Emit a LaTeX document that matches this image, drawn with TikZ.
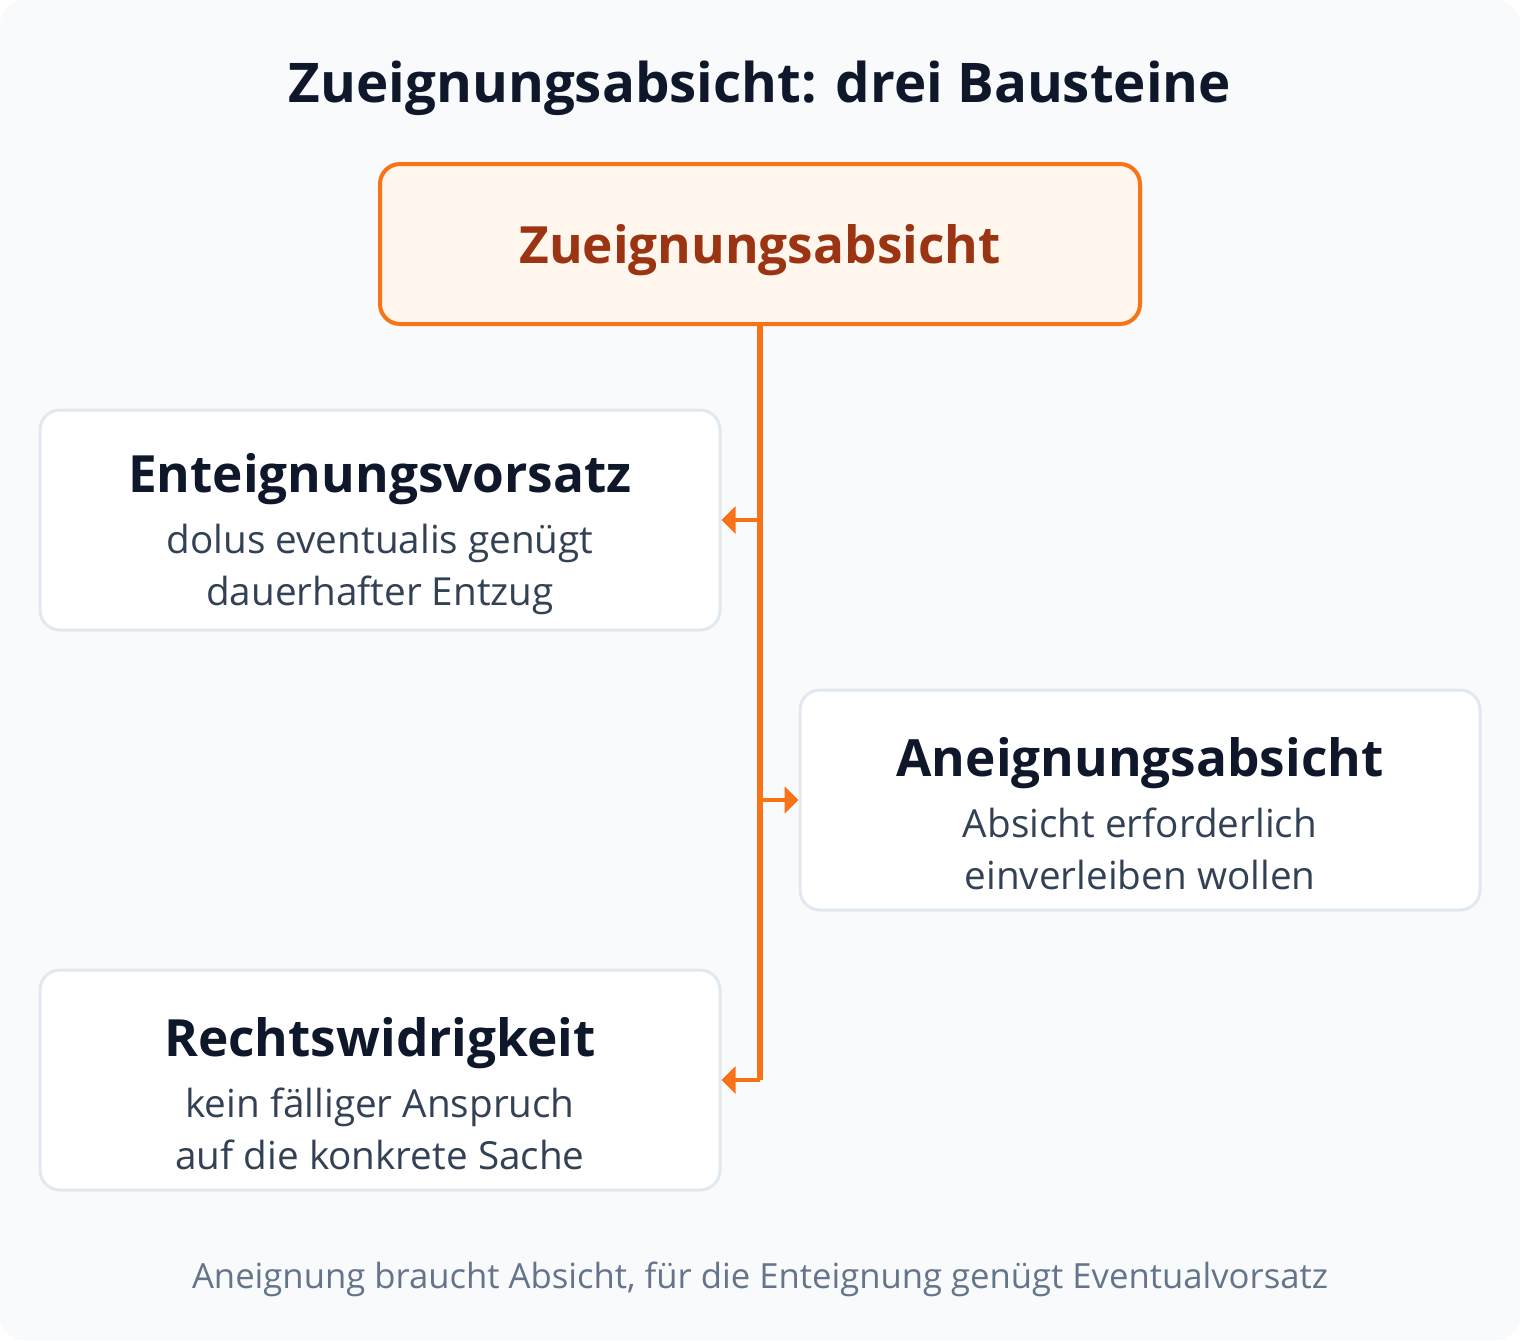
\documentclass[tikz,border=0pt]{standalone}
\usepackage{fontspec}
\setmainfont{Open Sans}
\usetikzlibrary{arrows.meta}
\definecolor{ink}{HTML}{0F172A}
\definecolor{slate}{HTML}{334155}
\definecolor{muted}{HTML}{64748B}
\definecolor{rim}{HTML}{E2E8F0}
\definecolor{canvas}{HTML}{F8FAFC}
\definecolor{flame}{HTML}{F97316}
\definecolor{peach}{HTML}{FFF7ED}
\definecolor{rust}{HTML}{9A3412}
\tikzset{
  card/.style={draw=rim, line width=2.25pt, fill=white, rounded corners=15pt,
    minimum width=510pt, minimum height=165pt, align=center, text=slate,
    font=\fontsize{29}{39}\selectfont},
  rootbox/.style={draw=flame, line width=3pt, fill=peach, rounded corners=15pt,
    minimum width=570pt, minimum height=120pt, text=rust,
    font=\fontsize{38.5}{46}\selectfont\bfseries},
  link/.style={draw=flame, line width=4pt},
  tip/.style={draw=flame, line width=3.5pt, -{Triangle[length=10.5pt, width=20pt]}},
}
% headline of a card, with a strut that pushes the text block down
\newcommand{\cardhead}[1]{{\color{ink}\fontsize{38.5}{46}\selectfont\bfseries\rule{0pt}{50pt}#1}\\[7pt]}
\begin{document}
\begin{tikzpicture}[x=0.75pt, y=-0.75pt]
		\useasboundingbox (0,0) rectangle (1520,1340);
		\fill[canvas, rounded corners=18pt] (0,0) rectangle (1520,1340);
		\node[text=ink, font=\fontsize{41}{49}\selectfont\bfseries] (title) at (760,88) {Zueignungsabsicht: drei Bausteine};
		\node[rootbox] (zueig) at (760,244) {\rule{0pt}{38pt}Zueignungsabsicht};
		\node[card] (enteig) at (380,520) {\cardhead{Enteignungsvorsatz}dolus eventualis genügt\\dauerhafter Entzug};
		\node[card] (aneig) at (1140,800) {\cardhead{Aneignungsabsicht}Absicht erforderlich\\einverleiben wollen};
		\node[card] (rechts) at (380,1080) {\cardhead{Rechtswidrigkeit}kein fälliger Anspruch\\auf die konkrete Sache};
		\node[text=muted, font=\fontsize{26}{31}\selectfont] (note) at (760,1279) {Aneignung braucht Absicht, für die Enteignung genügt Eventualvorsatz};
		\coordinate (j1) at (760,520);
		\coordinate (j2) at (760,800);
		\coordinate (j3) at (760,1080);
		\draw[link] (zueig.south) -- (j3);
		\draw[tip] (j1) -- (enteig.east);
		\draw[tip] (j2) -- (aneig.west);
		\draw[tip] (j3) -- (rechts.east);
	\end{tikzpicture}
\end{document}
